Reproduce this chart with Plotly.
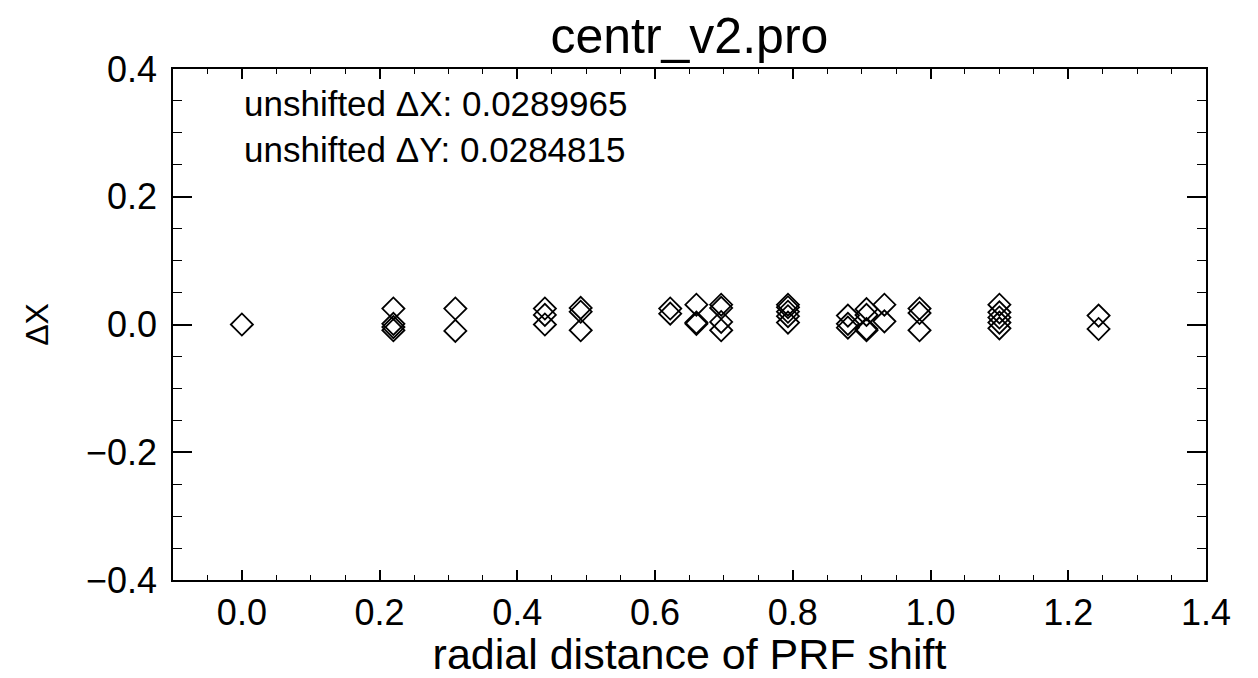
import plotly.graph_objects as go

# radial distance groups and the dX values read for each group
radial = [0.0, 0.22, 0.31, 0.44, 0.492, 0.622, 0.66, 0.696, 0.793,
          0.88, 0.907, 0.933, 0.984, 1.10, 1.244]
dx_groups = [
    [0.0],
    [0.025, 0.001, -0.004, -0.009],
    [0.025, -0.010],
    [0.025, 0.015, 0.0],
    [0.026, 0.020, -0.009],
    [0.025, 0.017],
    [0.031, 0.003, 0.001],
    [0.031, 0.026, 0.004, -0.009],
    [0.031, 0.027, 0.020, 0.013, 0.003],
    [0.014, 0.001, -0.005],
    [0.024, 0.015, -0.009, -0.007],
    [0.031, 0.005],
    [0.025, 0.018, -0.009],
    [0.031, 0.019, 0.011, 0.003, -0.006],
    [0.014, -0.007],
]
x_ticks = [0.0, 0.2, 0.4, 0.6, 0.8, 1.0, 1.2, 1.4]
y_ticks = [-0.4, -0.2, 0.0, 0.2, 0.4]
y_ticklabels = ["\u22120.4", "\u22120.2", "0.0", "0.2", "0.4"]
unshifted_dx = "0.0289965"
unshifted_dy = "0.0284815"

xs, ys = [], []
for r, grp in zip(radial, dx_groups):
    for v in grp:
        xs.append(r)
        ys.append(v)

FONT = "Liberation Sans, Arial, Helvetica, sans-serif"

fig = go.Figure()
fig.add_trace(go.Scatter(
    x=xs, y=ys, mode="markers",
    marker=dict(symbol="diamond-open", size=17, color="black",
                line=dict(color="black", width=1.8)),
    showlegend=False,
))

fig.update_layout(
    width=1258, height=678,
    margin=dict(l=173, r=52, t=69, b=98),
    paper_bgcolor="white", plot_bgcolor="white",
    font=dict(family=FONT, color="black", size=36),
    title=dict(text="centr_v2.pro", x=0.548, xanchor="center",
               y=0.947, yanchor="middle", font=dict(size=50)),
    xaxis=dict(
        range=[-0.1, 1.4], tickvals=x_ticks,
        tickformat=".1f", showgrid=False, zeroline=False,
        showline=True, linecolor="black", linewidth=1.5, mirror="ticks",
        ticks="inside", ticklen=10, tickwidth=1.5, tickcolor="black",
        minor=dict(dtick=0.05, ticks="inside", ticklen=5, tickwidth=1.2,
                   tickcolor="black", showgrid=False),
        ticklabelstandoff=0,
        tickfont=dict(size=36),
        automargin=False,
        title=dict(text="radial distance of PRF shift", font=dict(size=43),
                   standoff=4),
    ),
    yaxis=dict(
        range=[-0.4, 0.4], tickvals=y_ticks, ticktext=y_ticklabels,
        showgrid=False, zeroline=False,
        showline=True, linecolor="black", linewidth=1.5, mirror="ticks",
        ticks="inside", ticklen=19, tickwidth=1.5, tickcolor="black",
        minor=dict(dtick=0.05, ticks="inside", ticklen=9, tickwidth=1.2,
                   tickcolor="black", showgrid=False),
        ticklabelstandoff=7,
        tickfont=dict(size=36),
        automargin=False,
        title=dict(text="\u0394X", font=dict(size=32), standoff=28),
    ),
)

fig.add_annotation(
    x=0.0, y=0.3453, xref="x", yref="y", xanchor="left", yanchor="middle",
    text="unshifted \u0394X: " + unshifted_dx, showarrow=False,
    font=dict(size=35),
)
fig.add_annotation(
    x=0.0, y=0.2734, xref="x", yref="y", xanchor="left", yanchor="middle",
    text="unshifted \u0394Y: " + unshifted_dy, showarrow=False,
    font=dict(size=35),
)

fig.write_html("out.html")
